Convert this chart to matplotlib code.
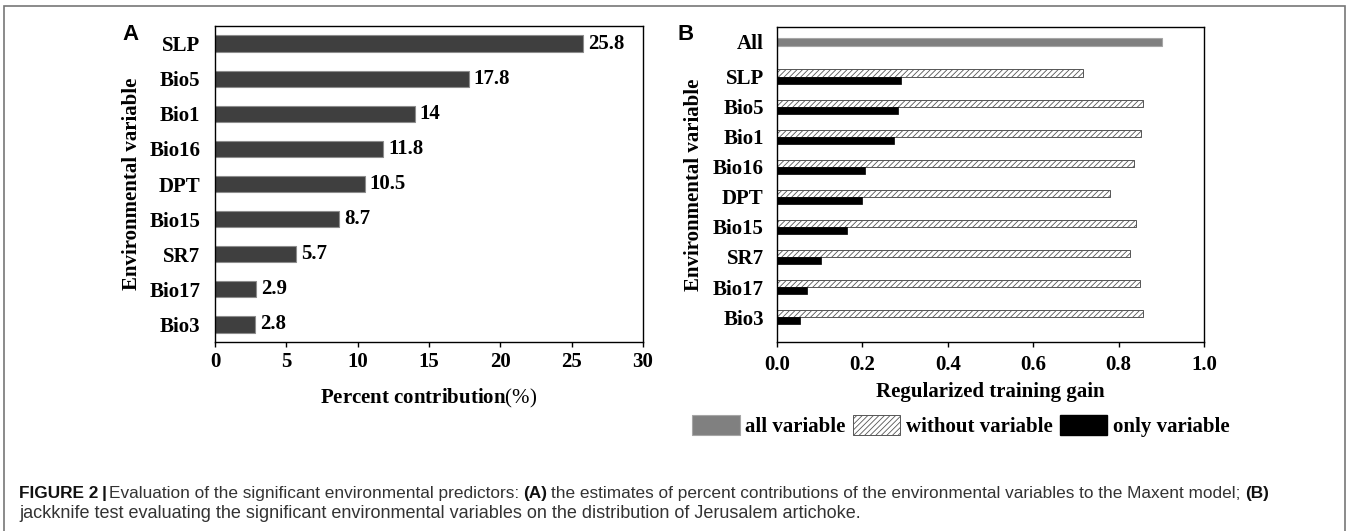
import numpy as np
from matplotlib import pyplot as plt
from matplotlib.patches import Patch, Rectangle

# %% Data ---------------------------------------------------------------------------------------------------------------
variables = ["SLP", "Bio5", "Bio1", "Bio16", "DPT", "Bio15", "SR7", "Bio17", "Bio3"]
percent_contribution = [25.8, 17.8, 14, 11.8, 10.5, 8.7, 5.7, 2.9, 2.8]

all_gain = 0.902
without_gain = [0.717, 0.856, 0.853, 0.837, 0.779, 0.840, 0.827, 0.850, 0.858]
only_gain = [0.291, 0.284, 0.273, 0.207, 0.200, 0.165, 0.104, 0.070, 0.054]

legend_labels = ["all variable", "without variable", "only variable"]

caption_line1 = [("FIGURE 2", "bold", 0), ("|", "bold", 3), ("Evaluation of the significant environmental predictors:", "normal", 3),
                 ("(A)", "bold", 4), ("the estimates of percent contributions of the environmental variables to the Maxent model;", "normal", 4),
                 ("(B)", "bold", 4)]
caption_line2 = "jackknife test evaluating the significant environmental variables on the distribution of Jerusalem artichoke."

# %% Style --------------------------------------------------------------------------------------------------------------
plt.rcParams["font.family"] = "Liberation Serif"
plt.rcParams["font.weight"] = "bold"
plt.rcParams["axes.labelweight"] = "bold"
plt.rcParams["font.size"] = 15
plt.rcParams["axes.linewidth"] = 1.0
plt.rcParams["hatch.linewidth"] = 0.6
plt.rcParams["mathtext.fontset"] = "custom"
plt.rcParams["mathtext.rm"] = "Liberation Serif:weight=normal"

W, H = 1352, 531
fig = plt.figure(figsize=(W / 100, H / 100), dpi=100)

# %% Panel A ------------------------------------------------------------------------------------------------------------
axA = fig.add_axes([215 / W, 1 - 342 / H, 428 / W, 316 / H])
ya = np.arange(len(variables))
axA.barh(ya, percent_contribution, height=0.46, color="#3f3f3f", edgecolor="#8c8c8c", linewidth=0.8)
for y, v in zip(ya, percent_contribution):
    axA.annotate(f"{v:g}", (v, y), xytext=(3.5, 0), textcoords="offset points", va="center", ha="left")
axA.set_xlim(0, 30)
axA.set_ylim(8.5, -0.5)
axA.set_xticks(range(0, 31, 5))
axA.set_yticks(ya)
axA.set_yticklabels(variables)
axA.tick_params(axis="y", length=0, pad=10.5)
axA.tick_params(axis="x", length=3.6, width=1, pad=3.5)
axA.set_xlabel(r"Percent contribution$\mathrm{(\%)}$", labelpad=11)
axA.text(-0.194, 0.5, "Environmental variable", transform=axA.transAxes, rotation=90, ha="center", va="center")

# %% Panel B ------------------------------------------------------------------------------------------------------------
axB = fig.add_axes([777 / W, 1 - 342 / H, 427 / W, 315 / H])
yb = np.arange(len(variables))
all_pos = -1.167
axB.barh(all_pos, all_gain, height=0.267, color="#808080", edgecolor="#a6a6a6", linewidth=0.8)
axB.barh(yb - 0.125, without_gain, height=0.235, color="white", edgecolor="#555555", hatch="//////", linewidth=0.7)
axB.barh(yb + 0.125, only_gain, height=0.235, color="black", edgecolor="black", linewidth=0.5)
axB.set_xlim(0, 1)
axB.set_ylim(8.83, -1.657)
axB.set_xticks(np.arange(0, 1.01, 0.2))
axB.set_xticklabels([f"{t:.1f}" for t in np.arange(0, 1.01, 0.2)])
axB.set_yticks(np.r_[all_pos, yb])
axB.set_yticklabels(["All"] + variables)
axB.tick_params(axis="y", length=0, pad=9.5)
axB.tick_params(axis="x", length=3.6, width=1, pad=5.5)
axB.set_xlabel("Regularized training gain", labelpad=5.5)
axB.text(-0.195, 0.5, "Environmental variable", transform=axB.transAxes, rotation=90, ha="center", va="center")

handles = [Patch(facecolor="#808080", edgecolor="#a6a6a6", linewidth=0.8),
           Patch(facecolor="white", edgecolor="#555555", hatch="//////", linewidth=0.7),
           Patch(facecolor="black", edgecolor="black")]
fig.legend(handles, legend_labels, loc="center", bbox_to_anchor=(961 / W, 1 - 426 / H), ncol=3, frameon=False,
           handlelength=2.26, handleheight=1.15, handletextpad=0.28, columnspacing=0.35, borderpad=0, borderaxespad=0)

# %% Panel letters, frame and caption -----------------------------------------------------------------------------------
fig.text(122 / W, 1 - 24 / H, "A", family="Liberation Sans", weight="bold", size=16, ha="left", va="top")
fig.text(678 / W, 1 - 24 / H, "B", family="Liberation Sans", weight="bold", size=16, ha="left", va="top")

fig.add_artist(Rectangle((4 / W, -0.1), 1341 / W, 1.1 - 6 / H, transform=fig.transFigure, fill=False,
                         edgecolor="#777777", linewidth=1.2))

renderer = fig.canvas.get_renderer()


def draw_caption_line1(size):
    x_px = 19
    texts = []
    for text, weight, gap in caption_line1:
        x_px += gap
        t = fig.text(x_px / W, 1 - 498 / H, text, family="Liberation Sans", weight=weight, size=size,
                     ha="left", va="baseline", color="#111111" if weight == "bold" else "#333333")
        texts.append(t)
        x_px = t.get_window_extent(renderer).x1
    return texts, x_px


# fit the caption lines to the widths they have in the figure
trial, end = draw_caption_line1(10)
for t in trial:
    t.remove()
cap_size = 10 * (1274 - 19) / (end - 19)
draw_caption_line1(cap_size)

line2 = fig.text(19 / W, 1 - 518 / H, caption_line2, family="Liberation Sans", weight="normal", size=10,
                 ha="left", va="baseline", color="#333333")
line2.set_fontsize(10 * (860 - 19) / line2.get_window_extent(renderer).width)

fig.savefig("out.png", dpi=100)
